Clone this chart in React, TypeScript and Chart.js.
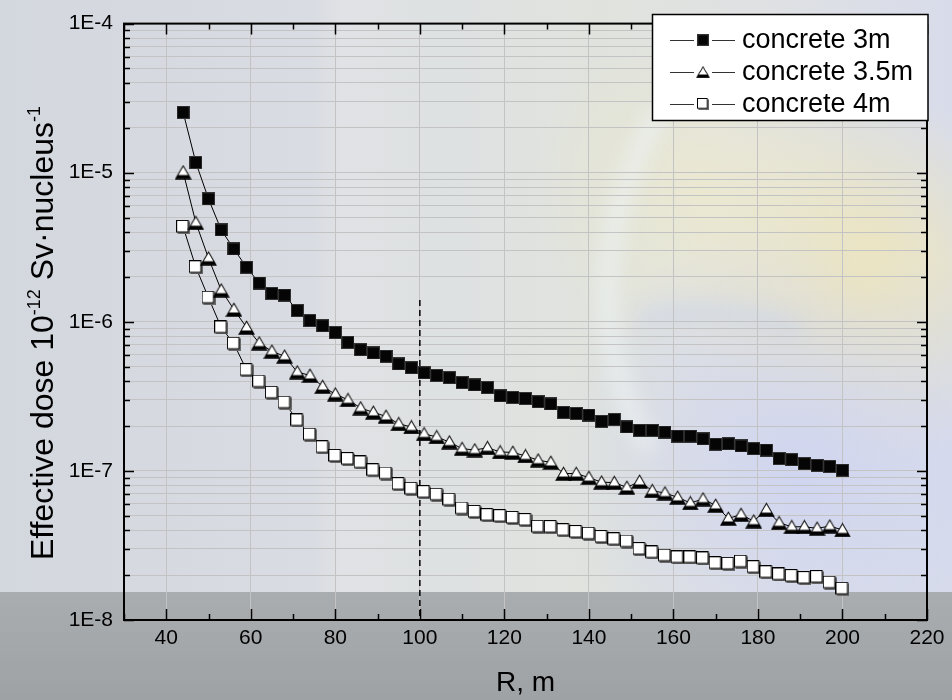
import React, { useEffect, useRef } from 'react';
import { Chart, registerables } from 'chart.js';

Chart.register(...registerables);

// ---------- data ----------
const xValues = [
  44, 47, 50, 53, 56, 59, 62, 65, 68, 71,
  74, 77, 80, 83, 86, 89, 92, 95, 98, 101,
  104, 107, 110, 113, 116, 119, 122, 125, 128, 131,
  134, 137, 140, 143, 146, 149, 152, 155, 158, 161,
  164, 167, 170, 173, 176, 179, 182, 185, 188, 191,
  194, 197, 200,
];

const concrete3m = [
  2.54e-5, 1.17e-5, 6.67e-6, 4.13e-6, 3.08e-6, 2.32e-6, 1.82e-6, 1.55e-6, 1.51e-6, 1.19e-6,
  1.02e-6, 9.4e-7, 8.47e-7, 7.28e-7, 6.5e-7, 6.18e-7, 5.87e-7, 5.22e-7, 4.92e-7, 4.55e-7,
  4.37e-7, 4.22e-7, 3.91e-7, 3.77e-7, 3.62e-7, 3.19e-7, 3.11e-7, 3.06e-7, 2.91e-7, 2.81e-7,
  2.47e-7, 2.43e-7, 2.37e-7, 2.15e-7, 2.21e-7, 1.97e-7, 1.87e-7, 1.87e-7, 1.82e-7, 1.71e-7,
  1.71e-7, 1.64e-7, 1.51e-7, 1.52e-7, 1.47e-7, 1.41e-7, 1.38e-7, 1.21e-7, 1.19e-7, 1.12e-7,
  1.09e-7, 1.07e-7, 1.01e-7,
];

const concrete35m = [
  1.01e-5, 4.62e-6, 2.67e-6, 1.63e-6, 1.21e-6, 9.16e-7, 7.2e-7, 6.34e-7, 5.87e-7, 4.6e-7,
  4.37e-7, 3.68e-7, 3.27e-7, 3.0e-7, 2.64e-7, 2.47e-7, 2.32e-7, 2.07e-7, 1.97e-7, 1.77e-7,
  1.69e-7, 1.56e-7, 1.41e-7, 1.38e-7, 1.43e-7, 1.34e-7, 1.33e-7, 1.26e-7, 1.18e-7, 1.14e-7,
  9.6e-8, 9.6e-8, 9.02e-8, 8.4e-8, 8.35e-8, 7.75e-8, 8.5e-8, 7.36e-8, 7.1e-8, 6.65e-8,
  6.1e-8, 6.47e-8, 5.87e-8, 4.8e-8, 5.1e-8, 4.6e-8, 5.5e-8, 4.49e-8, 4.22e-8, 4.22e-8,
  4.12e-8, 4.26e-8, 4.02e-8,
];

const concrete4m = [
  4.33e-6, 2.32e-6, 1.45e-6, 9.16e-7, 7.13e-7, 4.74e-7, 3.97e-7, 3.34e-7, 2.87e-7, 2.18e-7,
  1.75e-7, 1.44e-7, 1.26e-7, 1.2e-7, 1.14e-7, 1.01e-7, 9.6e-8, 8.15e-8, 7.59e-8, 7.2e-8,
  6.92e-8, 6.41e-8, 5.59e-8, 5.31e-8, 5.05e-8, 4.97e-8, 4.84e-8, 4.68e-8, 4.22e-8, 4.2e-8,
  4.0e-8, 3.89e-8, 3.79e-8, 3.6e-8, 3.48e-8, 3.36e-8, 2.99e-8, 2.84e-8, 2.70e-8, 2.63e-8,
  2.63e-8, 2.59e-8, 2.4e-8, 2.38e-8, 2.46e-8, 2.26e-8, 2.09e-8, 2.02e-8, 1.97e-8, 1.91e-8,
  1.94e-8, 1.78e-8, 1.62e-8,
];

const seriesLabels = ['concrete 3m', 'concrete 3.5m', 'concrete 4m'];

const refLineX = [100, 100];
const refLineY = [1.4e-6, 1e-8];

const xMin = 30;
const xMax = 220;
const xTickValues = [40, 60, 80, 100, 120, 140, 160, 180, 200, 220];
const xMinorTickValues = [30, 50, 70, 90, 110, 130, 150, 170, 190, 210];

const yMin = 1e-8;
const yMax = 1e-4;
const yDecades = [1e-8, 1e-7, 1e-6, 1e-5, 1e-4];
const yTickLabels = ['1E-8', '1E-7', '1E-6', '1E-5', '1E-4'];
const yMinorMultipliers = [2, 3, 4, 5, 6, 7, 8, 9];

const xTitle = 'R, m';
const yTitleParts = [
  { text: 'Effective dose 10', sup: false },
  { text: '-12', sup: true },
  { text: ' Sv\u00b7nucleus', sup: false },
  { text: '-1', sup: true },
];

const FONT = '"Liberation Sans", Arial, sans-serif';

// ---------- marker images ----------
function makeBlackSquare(): HTMLCanvasElement {
  const c = document.createElement('canvas');
  c.width = 13;
  c.height = 13;
  const g = c.getContext('2d')!;
  g.fillStyle = '#050505';
  g.fillRect(0, 0, 13, 13);
  g.strokeStyle = '#333';
  g.lineWidth = 1;
  g.strokeRect(0.5, 0.5, 12, 12);
  return c;
}

function makeTriangle(): HTMLCanvasElement {
  const c = document.createElement('canvas');
  c.width = 17;
  c.height = 15;
  const g = c.getContext('2d')!;
  g.fillStyle = '#000';
  g.beginPath();
  g.moveTo(8.5, 0.2);
  g.lineTo(16.9, 14.8);
  g.lineTo(0.1, 14.8);
  g.closePath();
  g.fill();
  g.fillStyle = '#fff';
  g.beginPath();
  g.moveTo(8.5, 2.3);
  g.lineTo(13.3, 10.4);
  g.lineTo(3.7, 10.4);
  g.closePath();
  g.fill();
  return c;
}

function makeWhiteSquare(): HTMLCanvasElement {
  const c = document.createElement('canvas');
  c.width = 14;
  c.height = 14;
  const g = c.getContext('2d')!;
  g.fillStyle = '#6a6a6a';
  g.fillRect(1.5, 1.5, 12.5, 12.5);
  g.fillStyle = '#fff';
  g.fillRect(0.5, 0.5, 11.5, 11.5);
  g.strokeStyle = '#000';
  g.lineWidth = 1;
  g.strokeRect(0.5, 0.5, 11.5, 11.5);
  return c;
}

export default function App() {
  const canvasRef = useRef<HTMLCanvasElement | null>(null);

  useEffect(() => {
    const canvas = canvasRef.current;
    if (!canvas) return;

    const imgBlack = makeBlackSquare();
    const imgTri = makeTriangle();
    const imgWhite = makeWhiteSquare();
    const markers = [imgBlack, imgTri, imgWhite];

    const toPoints = (ys: number[]) => xValues.map((x, i) => ({ x, y: ys[i] }));

    const yTickList: number[] = [];
    yDecades.forEach((d, i) => {
      yTickList.push(d);
      if (i < yDecades.length - 1) yMinorMultipliers.forEach((m) => yTickList.push(m * d));
    });

    const backgroundPlugin = {
      id: 'bgPlugin',
      beforeDraw(chart: any) {
        const ctx = chart.ctx as CanvasRenderingContext2D;
        const W = chart.width;
        const H = chart.height;
        ctx.save();
        const g = ctx.createLinearGradient(0, 0, W, 0);
        g.addColorStop(0, '#d3d7de');
        g.addColorStop(0.33, '#d9dce2');
        g.addColorStop(0.36, '#e0e2e5');
        g.addColorStop(0.46, '#dee1e2');
        g.addColorStop(0.63, '#e0e3dd');
        g.addColorStop(0.8, '#dfe1e3');
        g.addColorStop(1, '#d8dcea');
        ctx.fillStyle = g;
        ctx.fillRect(0, 0, W, H);

        // warm cream / yellow areas
        let r = ctx.createRadialGradient(860, 280, 10, 860, 280, 190);
        r.addColorStop(0, 'rgba(242,232,180,0.85)');
        r.addColorStop(1, 'rgba(242,232,180,0)');
        ctx.fillStyle = r;
        ctx.fillRect(0, 0, W, H);

        r = ctx.createRadialGradient(700, 190, 5, 700, 190, 170);
        r.addColorStop(0, 'rgba(238,234,205,0.75)');
        r.addColorStop(1, 'rgba(238,234,205,0)');
        ctx.fillStyle = r;
        ctx.fillRect(0, 0, W, H);

        // cool lavender lower right
        r = ctx.createRadialGradient(800, 470, 10, 800, 470, 250);
        r.addColorStop(0, 'rgba(206,212,242,0.85)');
        r.addColorStop(1, 'rgba(206,212,242,0)');
        ctx.fillStyle = r;
        ctx.fillRect(0, 0, W, H);

        // soft swirl
        ctx.strokeStyle = 'rgba(236,241,244,0.6)';
        ctx.lineWidth = 22;
        ctx.filter = 'blur(9px)';
        ctx.beginPath();
        ctx.moveTo(660, 110);
        ctx.quadraticCurveTo(560, 290, 650, 450);
        ctx.stroke();
        ctx.strokeStyle = 'rgba(200,210,232,0.45)';
        ctx.lineWidth = 18;
        ctx.beginPath();
        ctx.moveTo(640, 320);
        ctx.quadraticCurveTo(720, 300, 800, 330);
        ctx.stroke();
        ctx.filter = 'none';

        // bottom band
        const b = ctx.createLinearGradient(0, 592, 0, H);
        b.addColorStop(0, '#a9adb0');
        b.addColorStop(1, '#9ea2a5');
        ctx.fillStyle = b;
        ctx.fillRect(0, 592, W, H - 592);
        ctx.restore();
      },
    };

    const decoPlugin = {
      id: 'decoPlugin',
      afterDraw(chart: any) {
        const ctx = chart.ctx as CanvasRenderingContext2D;
        const xs = chart.scales.x;
        const ys = chart.scales.y;
        const { left, right, top, bottom } = chart.chartArea;
        ctx.save();

        // ticks (inward) on all sides
        ctx.strokeStyle = '#000';
        ctx.lineWidth = 1.5;
        ctx.beginPath();
        const xt = (v: number, len: number) => {
          const px = Math.round(xs.getPixelForValue(v)) + 0.5;
          ctx.moveTo(px, bottom);
          ctx.lineTo(px, bottom - len);
          ctx.moveTo(px, top);
          ctx.lineTo(px, top + len);
        };
        xTickValues.forEach((v) => xt(v, 11));
        xMinorTickValues.forEach((v) => xt(v, 6));
        const yt = (v: number, len: number) => {
          const py = Math.round(ys.getPixelForValue(v)) + 0.5;
          ctx.moveTo(left, py);
          ctx.lineTo(left + len, py);
          ctx.moveTo(right, py);
          ctx.lineTo(right - len, py);
        };
        yDecades.forEach((d, i) => {
          yt(d, 10);
          if (i < yDecades.length - 1) yMinorMultipliers.forEach((m) => yt(m * d, 6));
        });
        ctx.stroke();

        // frame
        ctx.lineWidth = 2;
        ctx.strokeRect(left, top, right - left, bottom - top);

        // x title
        ctx.fillStyle = '#000';
        ctx.font = `28px ${FONT}`;
        ctx.textAlign = 'center';
        ctx.textBaseline = 'middle';
        ctx.fillText(xTitle, (left + right) / 2, 683);

        // y title with superscripts
        ctx.save();
        ctx.translate(42, 333);
        ctx.rotate(-Math.PI / 2);
        const mainSize = 32;
        const supSize = 18;
        let total = 0;
        yTitleParts.forEach((p) => {
          ctx.font = `${p.sup ? supSize : mainSize}px ${FONT}`;
          total += ctx.measureText(p.text).width;
        });
        let cx = -total / 2;
        ctx.textAlign = 'left';
        ctx.textBaseline = 'alphabetic';
        yTitleParts.forEach((p) => {
          ctx.font = `${p.sup ? supSize : mainSize}px ${FONT}`;
          ctx.fillText(p.text, cx, p.sup ? -2 : 11);
          cx += ctx.measureText(p.text).width;
        });
        ctx.restore();

        // legend
        const lx = 652.5;
        const ly = 14.5;
        const lw = 275.5;
        const lh = 106;
        ctx.fillStyle = '#fff';
        ctx.fillRect(lx, ly, lw, lh);
        ctx.strokeStyle = '#000';
        ctx.lineWidth = 1.5;
        ctx.strokeRect(lx, ly, lw, lh);
        const rows = [40, 72, 104];
        seriesLabels.forEach((label, i) => {
          const yy = rows[i];
          ctx.strokeStyle = '#333';
          ctx.lineWidth = 1;
          ctx.beginPath();
          ctx.moveTo(670, yy + 0.5);
          ctx.lineTo(694, yy + 0.5);
          ctx.moveTo(712, yy + 0.5);
          ctx.lineTo(735, yy + 0.5);
          ctx.stroke();
          const im = markers[i];
          const s = 0.85;
          ctx.drawImage(im, 703 - (im.width * s) / 2, yy - (im.height * s) / 2, im.width * s, im.height * s);
          ctx.fillStyle = '#000';
          ctx.font = `27px ${FONT}`;
          ctx.textAlign = 'left';
          ctx.textBaseline = 'middle';
          ctx.fillText(label, 742, yy + 1);
        });

        ctx.restore();
      },
    };

    const chart = new Chart(canvas, {
      type: 'line',
      data: {
        datasets: [
          {
            label: seriesLabels[0],
            data: toPoints(concrete3m),
            borderColor: '#000',
            borderWidth: 1,
            pointStyle: imgBlack as any,
            pointRadius: 6,
            fill: false,
          },
          {
            label: seriesLabels[1],
            data: toPoints(concrete35m),
            borderColor: '#000',
            borderWidth: 1,
            pointStyle: imgTri as any,
            pointRadius: 6,
            fill: false,
          },
          {
            label: seriesLabels[2],
            data: toPoints(concrete4m),
            borderColor: '#000',
            borderWidth: 1,
            pointStyle: imgWhite as any,
            pointRadius: 6,
            fill: false,
          },
          {
            label: 'R = 100 m',
            data: refLineX.map((x, i) => ({ x, y: refLineY[i] })),
            borderColor: '#000',
            borderWidth: 1.5,
            borderDash: [6, 4],
            pointRadius: 0,
            fill: false,
          },
        ],
      },
      options: {
        animation: false,
        responsive: false,
        devicePixelRatio: 1,
        layout: { padding: { top: 17, right: 25, left: 0, bottom: 0 } },
        plugins: {
          legend: { display: false },
          tooltip: { enabled: false },
          title: { display: false },
        },
        scales: {
          x: {
            type: 'linear',
            min: xMin,
            max: xMax,
            afterBuildTicks: (s: any) => {
              s.ticks = xTickValues.map((v) => ({ value: v }));
            },
            afterFit: (s: any) => {
              s.height = 80;
            },
            ticks: {
              color: '#000',
              font: { family: FONT, size: 21 },
              padding: 6,
              maxRotation: 0,
              autoSkip: false,
              callback: (v: any) => String(v),
            },
            grid: { color: '#c3c3c3', lineWidth: 1, drawTicks: false },
            border: { display: false },
          },
          y: {
            type: 'logarithmic',
            min: yMin,
            max: yMax,
            afterBuildTicks: (s: any) => {
              s.ticks = yTickList.map((v) => ({ value: v }));
            },
            afterFit: (s: any) => {
              s.width = 124;
            },
            ticks: {
              color: '#000',
              font: { family: FONT, size: 21 },
              padding: 11,
              autoSkip: false,
              callback: (v: any) => {
                const idx = yDecades.findIndex((d) => Math.abs(Math.log10(d) - Math.log10(Number(v))) < 1e-6);
                return idx >= 0 ? yTickLabels[idx] : '';
              },
            },
            grid: { color: '#c3c3c3', lineWidth: 1, drawTicks: false },
            border: { display: false },
          },
        },
      },
      plugins: [backgroundPlugin, decoPlugin],
    } as any);

    return () => {
      chart.destroy();
    };
  }, []);

  return (
    <div style={{ position: 'fixed', left: 0, top: 0, width: 952, height: 700 }}>
      <canvas ref={canvasRef} width={952} height={700} style={{ display: 'block', width: 952, height: 700 }} />
    </div>
  );
}
